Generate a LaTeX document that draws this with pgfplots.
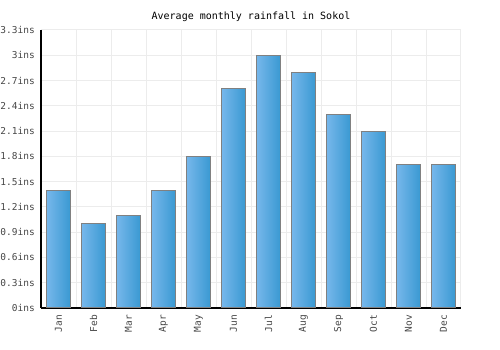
\documentclass[border=0pt]{standalone}
\usepackage{fontspec}
\setmainfont{DejaVu Sans Mono}
\usepackage{pgfplots}
\pgfplotsset{compat=1.18}
\definecolor{barL}{RGB}{118,183,235}
\definecolor{barR}{RGB}{58,153,210}
\definecolor{gridc}{RGB}{236,236,236}
\definecolor{tickc}{RGB}{70,70,70}
\definecolor{edgec}{RGB}{128,128,128}
\pgfplotsset{mybar/.style={ybar, bar shift=0pt, bar width=0.67, draw=edgec, line width=1bp, left color=barL, right color=barR}}
\begin{document}
\begin{tikzpicture}
\path[use as bounding box] (0,0) rectangle (500bp,350bp);
\begin{axis}[
  at={(41bp,42bp)}, anchor=south west,
  width=420bp, height=278bp, scale only axis,
  xmin=-0.5, xmax=11.5, ymin=0, ymax=3.3,
  axis line style={draw=none},
  xtick={0,1,2,3,4,5,6,7,8,9,10,11},
  xticklabels={Jan,Feb,Mar,Apr,May,Jun,Jul,Aug,Sep,Oct,Nov,Dec},
  minor xtick={0.5,1.5,2.5,3.5,4.5,5.5,6.5,7.5,8.5,9.5,10.5,11.49},
  ytick={0.3,0.6,0.9,1.2,1.5,1.8,2.1,2.4,2.7,3.0,3.3},
  yticklabels={0.3ins,0.6ins,0.9ins,1.2ins,1.5ins,1.8ins,2.1ins,2.4ins,2.7ins,3ins,3.3ins},
  extra y ticks={0},
  extra y tick labels={0ins},
  extra y tick style={grid=major, major grid style={black, line width=1.5bp}},
  extra x ticks={-0.5},
  extra x tick labels={},
  extra x tick style={grid=major, major grid style={black, line width=1.5bp}},
  major tick length=0pt, minor tick length=0pt,
  xminorgrids, ymajorgrids,
  grid style={gridc, line width=1bp},
  minor grid style={gridc, line width=1bp},
  ticklabel style={font=\fontsize{9.5bp}{11bp}\selectfont, text=tickc},
  xticklabel style={rotate=90, anchor=east, inner sep=0pt, xshift=-7bp},
  yticklabel style={anchor=east, inner sep=0pt, xshift=-6bp},
  title={Average monthly rainfall in Sokol},
  title style={font=\fontsize{10bp}{12bp}\selectfont, anchor=center, at={(0.5,1)}, yshift=7bp},
]
\addplot[mybar] coordinates {(0,1.4)};
\addplot[mybar] coordinates {(1,1.0)};
\addplot[mybar] coordinates {(2,1.1)};
\addplot[mybar] coordinates {(3,1.4)};
\addplot[mybar] coordinates {(4,1.8)};
\addplot[mybar] coordinates {(5,2.6)};
\addplot[mybar] coordinates {(6,3.0)};
\addplot[mybar] coordinates {(7,2.8)};
\addplot[mybar] coordinates {(8,2.3)};
\addplot[mybar] coordinates {(9,2.1)};
\addplot[mybar] coordinates {(10,1.7)};
\addplot[mybar] coordinates {(11,1.7)};
\end{axis}
\end{tikzpicture}
\end{document}
